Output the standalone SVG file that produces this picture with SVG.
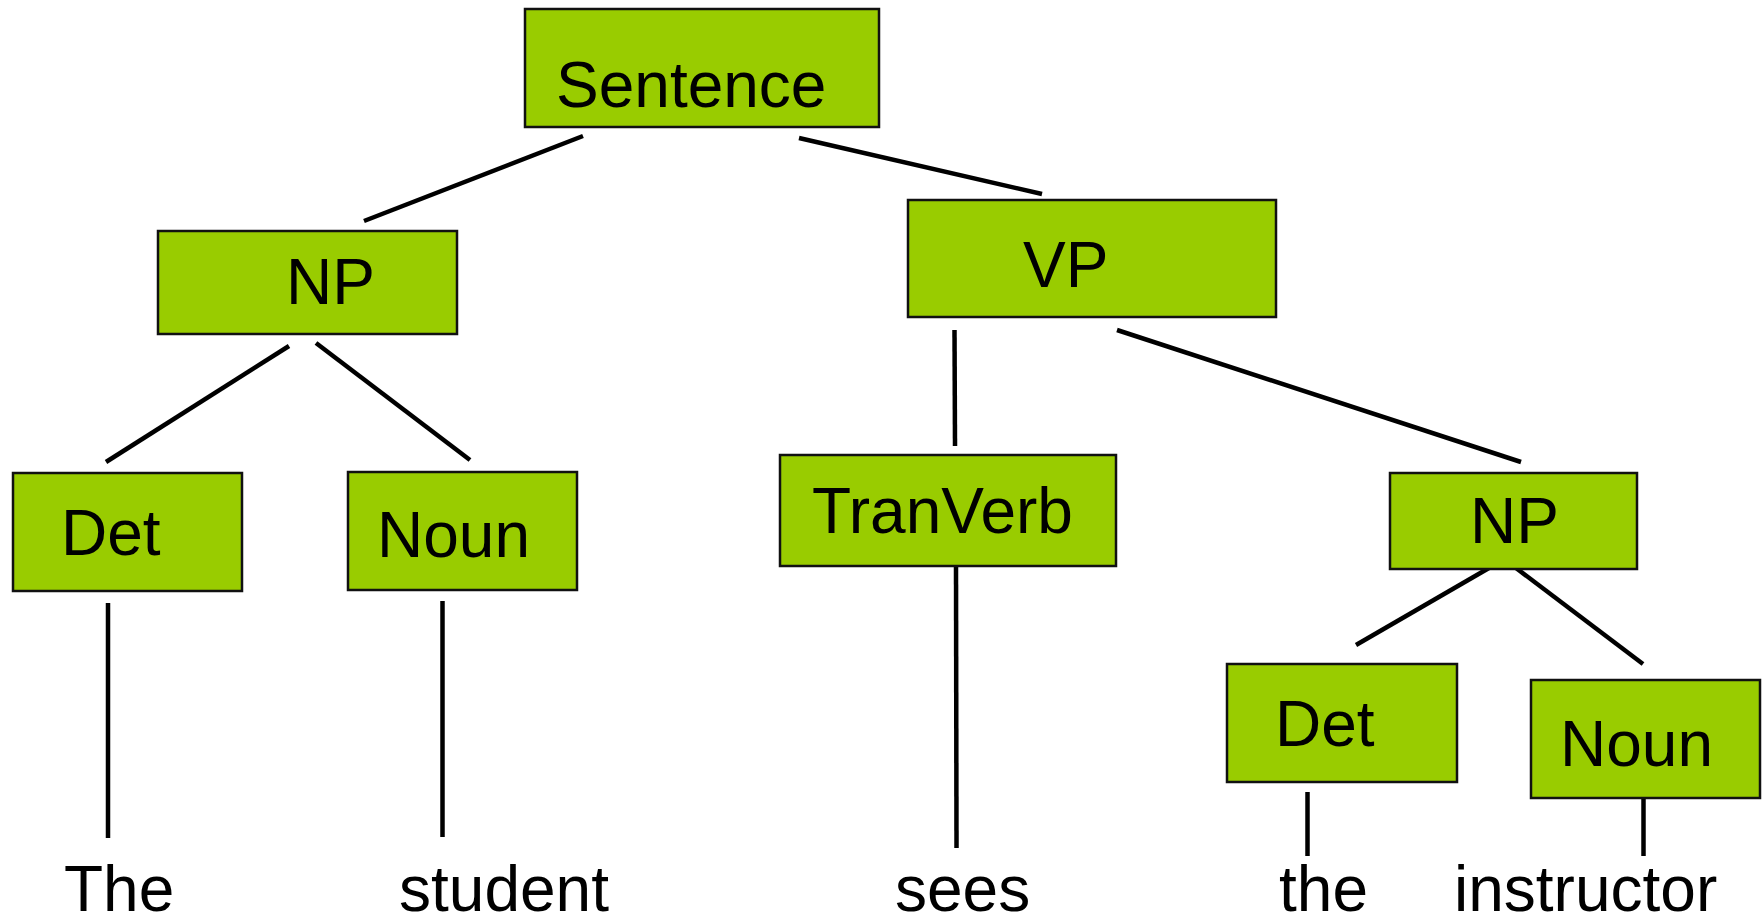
<svg xmlns="http://www.w3.org/2000/svg" width="1762" height="917" viewBox="0 0 1762 917">
<style>
.box{fill:#99CC00;stroke:#111;stroke-width:2.5}
.lbl{font-family:"Liberation Sans",Arial,sans-serif;font-size:64px;fill:#000}
.edge{stroke:#000;stroke-width:4.5;fill:none}
</style>
<rect width="1762" height="917" fill="#fff"/>
<g id="connectors">
<line class="edge" x1="583" y1="136" x2="364" y2="221"/>
<line class="edge" x1="799" y1="138" x2="1042" y2="194"/>
<line class="edge" x1="289" y1="346" x2="106" y2="462"/>
<line class="edge" x1="316" y1="343" x2="470" y2="460"/>
<line class="edge" x1="954.5" y1="330" x2="955" y2="446"/>
<line class="edge" x1="1117" y1="330" x2="1521" y2="462"/>
<line class="edge" x1="1489" y1="568" x2="1356" y2="645"/>
<line class="edge" x1="1516" y1="568" x2="1643" y2="664"/>
<line class="edge" x1="108" y1="603" x2="108" y2="838"/>
<line class="edge" x1="442.5" y1="601" x2="442.5" y2="837"/>
<line class="edge" x1="956" y1="567" x2="956.5" y2="848"/>
<line class="edge" x1="1307.5" y1="792" x2="1307.5" y2="856"/>
<line class="edge" x1="1643.5" y1="792" x2="1643.5" y2="856"/>
</g>
<g id="n-sentence"><rect class="box" x="525" y="9" width="354" height="118"/><text class="lbl" x="556" y="107">Sentence</text></g>
<g id="n-np1"><rect class="box" x="158" y="231" width="299" height="103"/><text class="lbl" x="286" y="304">NP</text></g>
<g id="n-vp"><rect class="box" x="908" y="200" width="368" height="117"/><text class="lbl" x="1023" y="287">VP</text></g>
<g id="n-det1"><rect class="box" x="13" y="473" width="229" height="118"/><text class="lbl" x="61" y="555">Det</text></g>
<g id="n-noun1"><rect class="box" x="348" y="472" width="229" height="118"/><text class="lbl" x="377" y="557">Noun</text></g>
<g id="n-tranverb"><rect class="box" x="780" y="455" width="336" height="111"/><text class="lbl" x="812" y="533">TranVerb</text></g>
<g id="n-np2"><rect class="box" x="1390" y="473" width="247" height="96"/><text class="lbl" x="1470" y="543">NP</text></g>
<g id="n-det2"><rect class="box" x="1227" y="664" width="230" height="118"/><text class="lbl" x="1275" y="746">Det</text></g>
<g id="n-noun2"><rect class="box" x="1531" y="680" width="229" height="118"/><text class="lbl" x="1560" y="766">Noun</text></g>
<g id="w-the"><text class="lbl" x="64" y="911">The</text></g>
<g id="w-student"><text class="lbl" x="399" y="911">student</text></g>
<g id="w-sees"><text class="lbl" x="895" y="911">sees</text></g>
<g id="w-the2"><text class="lbl" x="1279" y="911">the</text></g>
<g id="w-instructor"><text class="lbl" x="1454" y="911">instructor</text></g>
</svg>
